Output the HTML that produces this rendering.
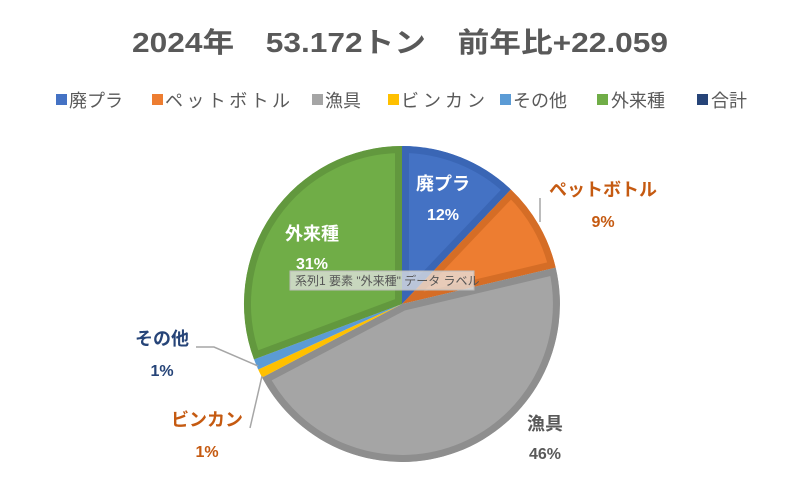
<!DOCTYPE html><html><head><meta charset="utf-8"><style>
body{margin:0;width:790px;height:475px;background:#fff;overflow:hidden;font-family:"Liberation Sans","Noto Sans CJK JP",sans-serif}
</style></head><body>
<svg width="790" height="475" xmlns="http://www.w3.org/2000/svg" style="font-family:'Liberation Sans','Noto Sans CJK JP',sans-serif">
<defs>
<clipPath id="c1"><path d="M402,304 L402,146 A158,158 0 0 1 510.9,189.5 Z"/></clipPath>
<clipPath id="c2"><path d="M402,304 L510.9,189.5 A158,158 0 0 1 555.7,267.6 Z"/></clipPath>
<clipPath id="c3"><path d="M402,304 L555.7,267.6 A158,158 0 0 1 262.1,377.5 Z"/></clipPath>
<clipPath id="c6"><path d="M402,304 L254.0,359.4 A158,158 0 0 1 402,146 Z"/></clipPath>
</defs>
<text x="400" y="52" text-anchor="middle" font-size="28" font-weight="bold" fill="#595959" textLength="536" lengthAdjust="spacingAndGlyphs">2024年　53.172トン　前年比+22.059</text>
<g font-size="18" fill="#595959">
<rect x="56" y="94" width="11" height="11" fill="#4472c4"/><text x="69" y="107">廃プラ</text>
<rect x="152" y="94" width="11" height="11" fill="#ed7d31"/><text x="165" y="107" textLength="125">ペットボトル</text>
<rect x="312" y="94" width="11" height="11" fill="#a5a5a5"/><text x="325" y="107">漁具</text>
<rect x="388" y="94" width="11" height="11" fill="#ffc000"/><text x="401" y="107" textLength="84">ビンカン</text>
<rect x="500" y="94" width="11" height="11" fill="#5b9bd5"/><text x="513" y="107">その他</text>
<rect x="597" y="94" width="11" height="11" fill="#70ad47"/><text x="611" y="107">外来種</text>
<rect x="697" y="94" width="11" height="11" fill="#264478"/><text x="711" y="107">合計</text>
</g>
<g stroke-width="14" stroke-linejoin="miter">
<path d="M402,304 L402,146 A158,158 0 0 1 510.9,189.5 Z" fill="#4472c4" stroke="#3a66b5" clip-path="url(#c1)"/>
<path d="M402,304 L510.9,189.5 A158,158 0 0 1 555.7,267.6 Z" fill="#ed7d31" stroke="#d56d26" clip-path="url(#c2)"/>
<path d="M402,304 L555.7,267.6 A158,158 0 0 1 262.1,377.5 Z" fill="#a5a5a5" stroke="#8e8e8e" clip-path="url(#c3)"/>
<path d="M402,304 L262.1,377.5 A158,158 0 0 1 258.2,369.5 Z" fill="#ffc000"/>
<path d="M402,304 L258.2,369.5 A158,158 0 0 1 254.0,359.4 Z" fill="#5b9bd5"/>
<path d="M402,304 L254.0,359.4 A158,158 0 0 1 402,146 Z" fill="#70ad47" stroke="#62983e" clip-path="url(#c6)"/>
</g>
<g stroke="#a6a6a6" stroke-width="1.5" fill="none">
<polyline points="540,198 540,222"/>
<polyline points="196,347 214,347 258,366"/>
<polyline points="250,428 262,376"/>
</g>
<g font-size="18" font-weight="bold" text-anchor="middle">
<text x="443" y="190" fill="#fff">廃プラ</text><text x="443" y="220" fill="#fff" font-size="16">12%</text>
<text x="603" y="196" fill="#c55a11">ペットボトル</text><text x="603" y="227" fill="#c55a11" font-size="16">9%</text>
<text x="545" y="430" fill="#595959">漁具</text><text x="545" y="459" fill="#595959" font-size="16">46%</text>
<text x="207" y="426" fill="#c55a11">ビンカン</text><text x="207" y="457" fill="#c55a11" font-size="16">1%</text>
<text x="162" y="345" fill="#264478">その他</text><text x="162" y="376" fill="#264478" font-size="16">1%</text>
<text x="312" y="240" fill="#fff">外来種</text><text x="312" y="269" fill="#fff" font-size="16">31%</text>
</g>
<rect x="290" y="271" width="184" height="19" fill="#e6e6e6" fill-opacity="0.75" stroke="#bbb"/>
<text x="295" y="285" font-size="12" fill="#555">系列1 要素 "外来種" データ ラベル</text>
</svg>
</body></html>
